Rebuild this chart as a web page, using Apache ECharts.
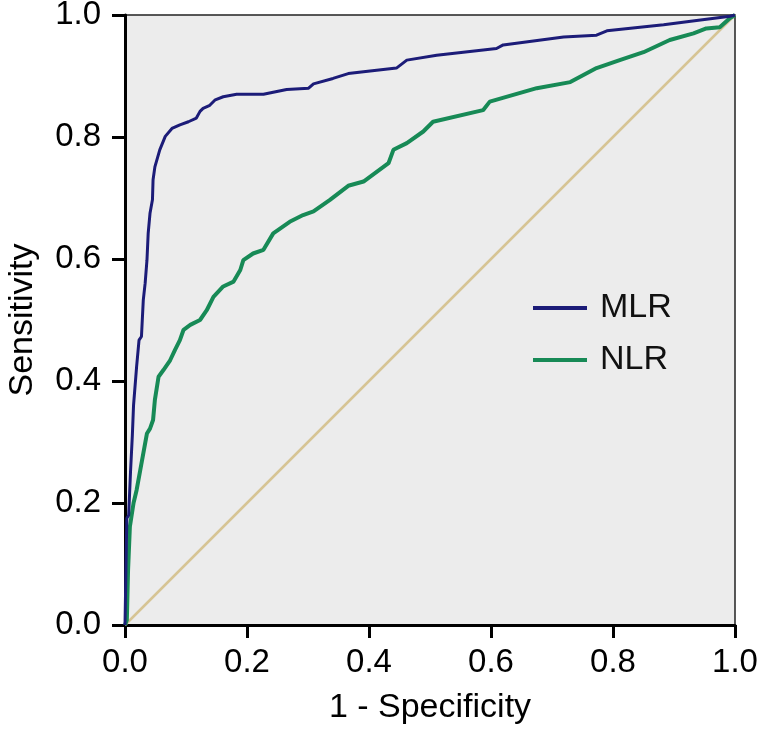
<!DOCTYPE html>
<html>
<head>
<meta charset="utf-8">
<script src="https://cdn.jsdelivr.net/npm/echarts@6/dist/echarts.min.js"></script>
<style>
  html, body { margin: 0; padding: 0; background: #fff; }
  #chart { width: 760px; height: 732px; }
</style>
</head>
<body>
<div id="chart"></div>
<script>
// ROC points: [1 - specificity, sensitivity]
var mlrPoints = [
  [0, 0], [0.001, 0.06], [0.002, 0.12], [0.003, 0.175], [0.006, 0.18], [0.009, 0.25],
  [0.012, 0.31], [0.014, 0.36], [0.019, 0.423], [0.023, 0.467], [0.027, 0.473],
  [0.030, 0.533], [0.033, 0.560], [0.036, 0.598], [0.038, 0.642], [0.041, 0.675],
  [0.045, 0.697], [0.046, 0.730], [0.049, 0.751], [0.057, 0.779], [0.066, 0.801],
  [0.077, 0.814], [0.090, 0.820], [0.104, 0.825], [0.117, 0.831], [0.123, 0.842],
  [0.128, 0.847], [0.139, 0.852], [0.148, 0.861], [0.161, 0.866], [0.183, 0.870],
  [0.227, 0.870], [0.265, 0.878], [0.301, 0.880], [0.309, 0.887], [0.341, 0.896],
  [0.366, 0.904], [0.391, 0.907], [0.445, 0.913], [0.462, 0.926], [0.511, 0.934],
  [0.609, 0.945], [0.620, 0.951], [0.719, 0.964], [0.773, 0.967], [0.790, 0.974],
  [0.883, 0.984], [0.937, 0.991], [0.992, 0.998], [1, 1]
]
var nlrPoints = [
  [0, 0], [0.003, 0.008], [0.005, 0.090], [0.008, 0.161], [0.014, 0.200], [0.019, 0.221],
  [0.025, 0.254], [0.036, 0.314], [0.041, 0.322], [0.046, 0.336], [0.049, 0.369],
  [0.055, 0.407], [0.063, 0.418], [0.074, 0.434], [0.082, 0.451], [0.090, 0.467],
  [0.096, 0.484], [0.107, 0.492], [0.123, 0.500], [0.134, 0.516], [0.145, 0.538],
  [0.161, 0.555], [0.178, 0.563], [0.189, 0.582], [0.194, 0.598], [0.210, 0.609],
  [0.227, 0.615], [0.243, 0.642], [0.270, 0.661], [0.292, 0.672], [0.309, 0.678],
  [0.336, 0.697], [0.366, 0.720], [0.391, 0.727], [0.432, 0.757], [0.440, 0.779],
  [0.462, 0.790], [0.489, 0.809], [0.505, 0.825], [0.587, 0.844], [0.598, 0.858],
  [0.675, 0.880], [0.730, 0.890], [0.773, 0.913], [0.811, 0.926], [0.850, 0.939],
  [0.893, 0.959], [0.932, 0.970], [0.953, 0.978], [0.975, 0.980], [0.992, 0.995], [1, 1]
]
// reference line
var refPoints = [[0, 0], [1, 1]]
var seriesNames = ['MLR', 'NLR']

var font = 'Liberation Sans, Arial, sans-serif'

function axis (name, gap) {
  return {
    type: 'value',
    min: 0,
    max: 1,
    interval: 0.2,
    name: name,
    nameLocation: 'middle',
    nameGap: gap,
    nameTextStyle: { fontFamily: font, fontSize: 34, color: '#000' },
    axisLine: { show: true, lineStyle: { color: '#000', width: 3 } },
    axisTick: { show: true, length: 13, lineStyle: { color: '#000', width: 3 } },
    axisLabel: {
      fontFamily: font, fontSize: 33, color: '#000', margin: 21,
      formatter: function (v) { return v.toFixed(1) }
    },
    splitLine: { show: false }
  }
}

var myChart = echarts.init(document.getElementById('chart'))
var xAx = axis('1 - Specificity', 66)
var yAx = axis('Sensitivity', 85)
yAx.axisLabel.margin = 24

myChart.setOption({
  animation: false,
  grid: {
    left: 125, right: 25, top: 15, bottom: 107,
    containLabel: false,
    outerBoundsMode: 'none',
    show: true,
    backgroundColor: '#ececec',
    borderColor: '#222',
    borderWidth: 1.5
  },
  legend: {
    data: seriesNames,
    orient: 'vertical',
    left: 533,
    top: 291,
    padding: 0,
    itemWidth: 54,
    itemHeight: 4,
    itemGap: 18,
    icon: 'rect',
    textStyle: { fontFamily: font, fontSize: 34, color: '#111', lineHeight: 34, padding: [0, 0, 0, 8] }
  },
  xAxis: xAx,
  yAxis: yAx,
  series: [
    {
      name: 'ref',
      type: 'line',
      data: refPoints,
      showSymbol: false,
      lineStyle: { color: '#d6c494', width: 2.5 },
      itemStyle: { color: '#d6c494' },
      z: 1
    },
    {
      name: 'NLR',
      type: 'line',
      data: nlrPoints,
      showSymbol: false,
      lineStyle: { color: '#178a56', width: 4 },
      itemStyle: { color: '#178a56' },
      z: 2
    },
    {
      name: 'MLR',
      type: 'line',
      data: mlrPoints,
      showSymbol: false,
      lineStyle: { color: '#1c1c78', width: 3 },
      itemStyle: { color: '#1c1c78' },
      z: 3
    }
  ]
})
</script>
</body>
</html>
